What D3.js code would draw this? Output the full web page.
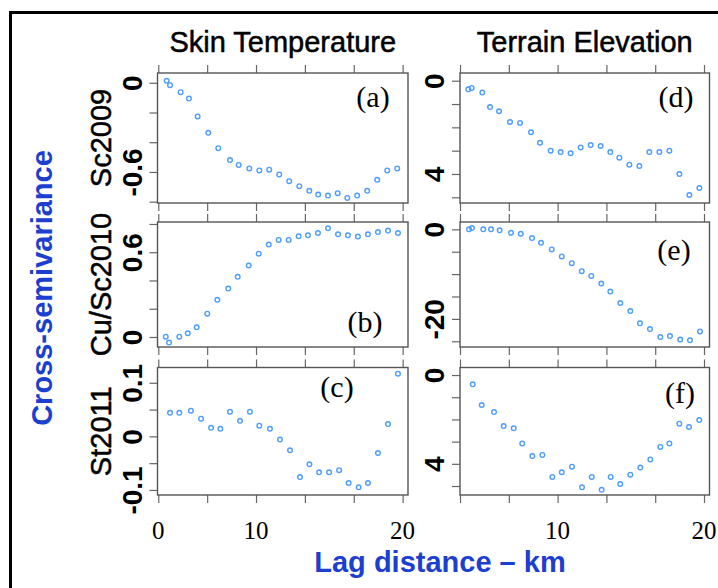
<!DOCTYPE html>
<html>
<head>
<meta charset="utf-8">
<script src="https://cdn.jsdelivr.net/npm/d3@7"></script>
<style>
  body { margin: 0; background: #fff; }
  svg { display: block; }
  .box { fill: none; stroke: #555; stroke-width: 1.4; }
  .axis line { stroke: #666; stroke-width: 1.2; }
  .axis path { display: none; }
  .ytick-label { font-family: "Liberation Sans Narrow", "Liberation Sans", Arial, sans-serif; font-weight: bold; font-size: 28px; fill: #000; }
  .xtick-label { font-family: "Liberation Serif", "Times New Roman", serif; font-size: 25px; fill: #000; }
  .panel-tag { font-family: "Liberation Serif", "Times New Roman", serif; font-size: 30px; fill: #000; }
  .col-title, .row-title { font-family: "Liberation Sans", Arial, sans-serif; font-size: 29px; fill: #000; stroke: #000; stroke-width: 0.5; }
  .axis-title { font-family: "Liberation Sans", Arial, sans-serif; font-weight: bold; font-size: 29px; fill: #1c3fd0; }
  .pt { fill: none; stroke: #4d9dff; stroke-width: 1.4; }
</style>
</head>
<body>
<div id="chart"></div>
<script>
// lag distance (km) and cross-semivariance values
const lagA = [0.69, 0.96, 1.83, 2.51, 3.22, 4.09, 4.91, 5.87, 6.58, 7.45, 8.27, 9.08, 9.9, 10.72, 11.54, 12.36, 13.09, 13.89, 14.68, 15.47, 16.28, 17.1, 17.92, 18.74, 19.56];
const valA = [0.014, -0.016, -0.063, -0.106, -0.226, -0.337, -0.44, -0.52, -0.553, -0.576, -0.59, -0.585, -0.617, -0.662, -0.696, -0.727, -0.752, -0.759, -0.743, -0.775, -0.759, -0.727, -0.653, -0.59, -0.576];

const lagB = [0.61, 0.88, 1.72, 2.41, 3.14, 4.01, 4.83, 5.73, 6.5, 7.4, 8.22, 9.04, 9.85, 10.67, 11.49, 12.25, 13.07, 13.89, 14.71, 15.52, 16.34, 17.16, 17.98, 18.8, 19.62];
const valB = [0.002, -0.04, 0.002, 0.026, 0.068, 0.165, 0.263, 0.343, 0.426, 0.506, 0.59, 0.654, 0.687, 0.687, 0.713, 0.72, 0.736, 0.769, 0.727, 0.72, 0.711, 0.727, 0.743, 0.753, 0.736];

const lagC = [0.96, 1.72, 2.67, 3.5, 4.32, 5.08, 5.87, 6.69, 7.5, 8.27, 9.14, 9.96, 10.78, 11.6, 12.37, 13.16, 13.98, 14.8, 15.58, 16.4, 17.16, 17.98, 18.8, 19.62];
const valC = [0.044, 0.044, 0.048, 0.033, 0.016, 0.014, 0.046, 0.029, 0.046, 0.020, 0.014, -0.006, -0.026, -0.076, -0.052, -0.067, -0.067, -0.063, -0.087, -0.095, -0.087, -0.031, 0.023, 0.117];

const lagD = [0.68, 0.96, 1.83, 2.46, 3.2, 4.1, 4.92, 5.82, 6.56, 7.43, 8.25, 9.07, 9.89, 10.71, 11.53, 12.32, 13.06, 13.88, 14.7, 15.52, 16.34, 17.16, 17.98, 18.8, 19.62];
const valD = [-0.37, -0.31, -0.51, -1.13, -1.31, -1.77, -1.81, -2.21, -2.66, -3.0, -3.06, -3.11, -2.86, -2.76, -2.8, -3.06, -3.3, -3.6, -3.66, -3.06, -3.06, -3.0, -4.0, -4.9, -4.6];

const lagE = [0.74, 0.98, 1.91, 2.54, 3.25, 4.18, 4.98, 5.9, 6.64, 7.52, 8.34, 9.16, 9.98, 10.76, 11.58, 12.32, 13.14, 13.96, 14.75, 15.57, 16.42, 17.21, 18.05, 18.85, 19.67];
const valE = [0, 0.29, 0, 0, -0.23, -0.76, -0.98, -1.95, -3.0, -4.49, -6.06, -7.56, -9.35, -10.4, -12.1, -13.9, -16.45, -18.24, -21.0, -22.28, -24.07, -23.85, -24.6, -24.8, -22.8];

const lagF = [1.04, 1.78, 2.79, 3.58, 4.4, 5.1, 5.93, 6.75, 7.57, 8.34, 9.18, 10.0, 10.8, 11.61, 12.35, 13.14, 13.96, 14.78, 15.6, 16.42, 17.16, 17.98, 18.77, 19.61];
const valF = [-0.42, -1.35, -1.67, -2.3, -2.4, -3.08, -3.65, -3.6, -4.59, -4.38, -4.13, -5.06, -4.59, -5.17, -4.59, -4.91, -4.49, -4.17, -3.8, -3.24, -3.08, -2.19, -2.34, -2.03];

// tick values and the labels printed on them
const xTicks = [0, 4, 8, 12, 16, 20];
const xLabelsLeft = [[0, '0'], [8, '10'], [20, '20']];
const xLabelsRight = [[8, '10'], [20, '20']];

const yTicksA = [0, -0.2, -0.4, -0.6, -0.8], yLabelsA = [[0, '0'], [-0.6, '-0.6']];
const yTicksB = [0, 0.2, 0.4, 0.6, 0.8], yLabelsB = [[0, '0'], [0.6, '0.6']];
const yTicksC = [0.1, 0.05, 0, -0.05, -0.1], yLabelsC = [[0.1, '0.1'], [0, '0'], [-0.1, '-0.1']];
const yTicksD = [0, -1, -2, -3, -4, -5], yLabelsD = [[0, '0'], [-4, '4']];
const yTicksE = [0, -5, -10, -15, -20, -25], yLabelsE = [[0, '0'], [-20, '-20']];
const yTicksF = [0, -1, -2, -3, -4, -5], yLabelsF = [[0, '0'], [-4, '4']];

const colTitles = ['Skin Temperature', 'Terrain Elevation'];
const rowTitles = ['Sc2009', 'Cu/Sc2010', 'St2011'];

const width = 718, height = 588;

// layout of the lattice
const cols = [{left: 157.5, right: 408, xDomain: [-0.065, 20.44]},
              {left: 460, right: 709.5, xDomain: [0, 20.45]}];
const rows = [{top: 73, bottom: 203}, {top: 222, bottom: 347}, {top: 367.5, bottom: 495}];

const panels = [
    {col: 0, row: 0, tag: '(a)', lag: lagA, val: valA, yDomain: [-0.809, 0.066], yTicks: yTicksA, yLabels: yLabelsA, tagPos: [373, 107]},
    {col: 0, row: 1, tag: '(b)', lag: lagB, val: valB, yDomain: [-0.071, 0.814], yTicks: yTicksB, yLabels: yLabelsB, tagPos: [365, 332]},
    {col: 0, row: 2, tag: '(c)', lag: lagC, val: valC, yDomain: [-0.1094, 0.1285], yTicks: yTicksC, yLabels: yLabelsC, tagPos: [337, 397]},
    {col: 1, row: 0, tag: '(d)', lag: lagD, val: valD, yDomain: [-5.244, 0.33], yTicks: yTicksD, yLabels: yLabelsD, tagPos: [676, 107]},
    {col: 1, row: 1, tag: '(e)', lag: lagE, val: valE, yDomain: [-26.28, 1.64], yTicks: yTicksE, yLabels: yLabelsE, tagPos: [674, 260]},
    {col: 1, row: 2, tag: '(f)', lag: lagF, val: valF, yDomain: [-5.405, 0.34], yTicks: yTicksF, yLabels: yLabelsF, tagPos: [680, 403]}
];

const svg = d3.select('#chart').append('svg')
    .attr('width', width)
    .attr('height', height);

// outer frame, runs off the right and bottom edges
svg.append('rect')
    .attr('x', 10.5).attr('y', 12.5)
    .attr('width', 800).attr('height', 700)
    .attr('fill', 'none')
    .attr('stroke', '#000')
    .attr('stroke-width', 3);

panels.forEach(p => {
    const c = cols[p.col], r = rows[p.row];
    const x = d3.scaleLinear().domain(c.xDomain).range([c.left, c.right]);
    const y = d3.scaleLinear().domain(p.yDomain).range([r.bottom, r.top]);
    const g = svg.append('g').attr('class', 'panel');

    // ticks on top and bottom of every panel, no labels
    g.append('g').attr('class', 'axis')
        .attr('transform', `translate(0,${r.top})`)
        .call(d3.axisTop(x).tickValues(xTicks).tickSize(8).tickFormat(''));
    g.append('g').attr('class', 'axis')
        .attr('transform', `translate(0,${r.bottom})`)
        .call(d3.axisBottom(x).tickValues(xTicks).tickSize(8).tickFormat(''));

    // left ticks with rotated labels on some of them
    const labelMap = new Map(p.yLabels);
    const yAxis = g.append('g').attr('class', 'axis')
        .attr('transform', `translate(${c.left},0)`)
        .call(d3.axisLeft(y).tickValues(p.yTicks).tickSize(8)
            .tickFormat(d => labelMap.has(d) ? labelMap.get(d) : ''));
    yAxis.selectAll('text')
        .attr('class', 'ytick-label')
        .attr('x', null).attr('dy', null)
        .attr('text-anchor', 'middle')
        .attr('transform', 'translate(-16,0) rotate(-90)');

    g.append('rect').attr('class', 'box')
        .attr('x', c.left).attr('y', r.top)
        .attr('width', c.right - c.left).attr('height', r.bottom - r.top);

    g.selectAll('circle')
        .data(d3.zip(p.lag, p.val))
        .join('circle')
        .attr('class', 'pt')
        .attr('cx', d => x(d[0]))
        .attr('cy', d => y(d[1]))
        .attr('r', 2.3);

    g.append('text').attr('class', 'panel-tag')
        .attr('x', p.tagPos[0]).attr('y', p.tagPos[1])
        .attr('text-anchor', 'middle')
        .text(p.tag);

    // x labels only under the bottom row
    if (p.row === 2) {
        const labels = p.col === 0 ? xLabelsLeft : xLabelsRight;
        g.selectAll('.xtick-label')
            .data(labels)
            .join('text')
            .attr('class', 'xtick-label')
            .attr('x', d => x(d[0]))
            .attr('y', 539)
            .attr('text-anchor', 'middle')
            .text(d => d[1]);
    }
});

// column and row titles
svg.selectAll('.col-title')
    .data(colTitles)
    .join('text')
    .attr('class', 'col-title')
    .attr('x', (d, i) => (cols[i].left + cols[i].right) / 2)
    .attr('y', 52)
    .attr('text-anchor', 'middle')
    .text(d => d);

svg.selectAll('.row-title')
    .data(rowTitles)
    .join('text')
    .attr('class', 'row-title')
    .attr('text-anchor', 'middle')
    .attr('transform', (d, i) => `translate(111,${(rows[i].top + rows[i].bottom) / 2}) rotate(-90)`)
    .text(d => d);

svg.append('text')
    .attr('class', 'axis-title')
    .attr('text-anchor', 'middle')
    .attr('transform', 'translate(52,288) rotate(-90)')
    .text('Cross-semivariance');

svg.append('text')
    .attr('class', 'axis-title')
    .attr('x', 440).attr('y', 572)
    .attr('text-anchor', 'middle')
    .text('Lag distance – km');
</script>
</body>
</html>
